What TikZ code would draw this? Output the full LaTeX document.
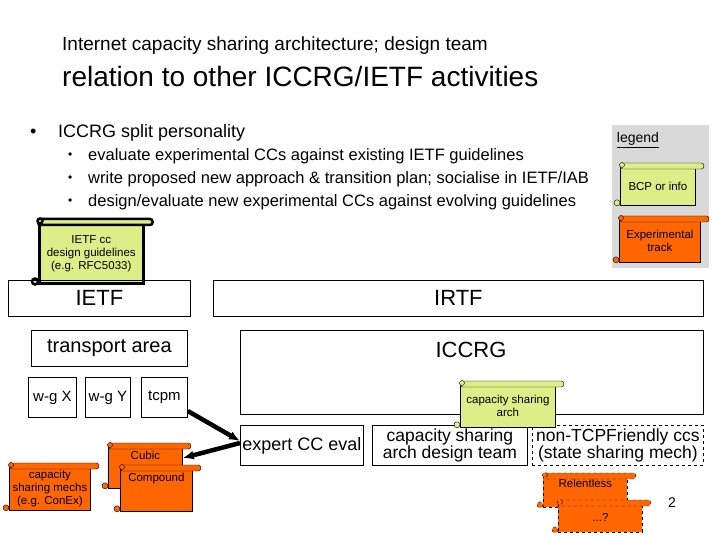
\documentclass[tikz,border=0pt]{standalone}
\usepackage{fontspec}
\setmainfont{Liberation Sans}
\usetikzlibrary{calc,arrows.meta}
\definecolor{ylw}{HTML}{DDEE88}
\definecolor{org}{HTML}{FF6600}
\definecolor{lgray}{HTML}{D9D9D9}
\tikzset{
 box/.style={draw,line width=0.8pt,inner sep=1pt},
 scrollbody/.style={draw,line width=0.8pt,inner sep=1pt,align=center,font=\fontsize{11.5}{13}\selectfont},
 arr/.style={-{Latex[length=11pt,width=9pt]},line width=4.5pt},
}
% #1 name, #2 left, #3 top, #4 right, #5 bottom, #6 style, #7 text
\newcommand\scrollnode[7]{%
 \node[scrollbody,#6,minimum width={#4-#2},minimum height={#5-#3-6},anchor=north west] (#1) at (#2,#3+6) {#7};
 \draw[#6] ($(#1.north west)+(0,-3)$) [rounded corners=2.5pt] rectangle ($(#1.north east)+(8,3)$);
 \draw[#6] ($(#1.north west)+(2,-1)$) circle (2.5);
 \draw[#6] ($(#1.south west)+(-3,-3)$) circle (3);
}
\begin{document}
\begin{tikzpicture}[x=1pt,y=-1pt]
\useasboundingbox (0,0) rectangle (720,540);
\node[anchor=west,font=\fontsize{19}{21}\selectfont,inner sep=0] (t1) at (62,46) {Internet capacity sharing architecture; design team};
\node[anchor=west,font=\fontsize{28}{30}\selectfont,inner sep=0] (t2) at (62,76) {relation to other ICCRG/IETF activities};
\node[anchor=west,font=\fontsize{18}{20}\selectfont,inner sep=0] (b0) at (30,133) {•};
\node[anchor=west,font=\fontsize{18}{20}\selectfont,inner sep=0] (b1) at (58,133) {ICCRG split personality};
\foreach \y/\t [count=\i] in {156/{evaluate experimental CCs against existing IETF guidelines},179/{write proposed new approach \& transition plan; socialise in IETF/IAB},202/{design/evaluate new experimental CCs against evolving guidelines}}{
 \node[anchor=west,font=\fontsize{12}{13}\selectfont,inner sep=0] (sb\i) at (68,\y) {•};
 \node[anchor=west,font=\fontsize{16.5}{18}\selectfont,inner sep=0] (st\i) at (88,\y) {\t};
}
% legend
\fill[lgray] (612,125) rectangle (709,268);
\node[font=\fontsize{14}{16}\selectfont] (leg) at (638,140) {\underline{legend}};
\scrollnode{lb}{620}{160}{695}{205}{fill=ylw}{BCP or info}
\scrollnode{le}{619}{213}{700}{262}{fill=org}{Experimental\\track}
% IETF cc
\scrollnode{gl}{38}{216}{142}{282}{fill=ylw,line width=2.5pt}{IETF cc\\design guidelines\\(e.g. RFC5033)}
\node[box,minimum width=182,minimum height=36,font=\fontsize{22}{24}\selectfont,anchor=north west] (ietf) at (8,280) {IETF};
\node[box,minimum width=490,minimum height=36,font=\fontsize{22}{24}\selectfont,anchor=north west] (irtf) at (213,280) {IRTF};
\node[box,minimum width=156,minimum height=36,font=\fontsize{20}{22}\selectfont,anchor=north west] (ta) at (31,330) {transport area};
\node[box,minimum width=463,minimum height=84,anchor=north west] (iccrg) at (240,330) {};
\node[font=\fontsize{22}{24}\selectfont] (iccrgl) at (471,350) {ICCRG};
\node[box,minimum width=48,minimum height=40,font=\fontsize{15}{17}\selectfont,anchor=north west] (wx) at (28,377) {w-g X};
\node[box,minimum width=45,minimum height=40,font=\fontsize{15}{17}\selectfont,anchor=north west] (wy) at (85,377) {w-g Y};
\node[box,minimum width=46,minimum height=40,font=\fontsize{15}{17}\selectfont,anchor=north west] (tcpm) at (141,377) {tcpm};
\node[box,minimum width=123,minimum height=40,font=\fontsize{18}{20}\selectfont,anchor=north west] (exp) at (240,425) {expert CC eval};
\node[box,minimum width=155,minimum height=40,font=\fontsize{17.5}{17.5}\selectfont,anchor=north west,align=center] (team) at (372,425) {capacity sharing\\arch design team};
\node[box,dashed,minimum width=171,minimum height=40,font=\fontsize{17.5}{17.5}\selectfont,anchor=north west,align=center] (ntf) at (532,425) {non-TCPFriendly ccs\\(state sharing mech)};
\scrollnode{csa}{460}{378}{555}{427}{fill=ylw}{capacity sharing\\arch}
\scrollnode{cubic}{108}{440}{182}{488}{fill=org}{Cubic\\[12pt]}
\scrollnode{comp}{120}{462}{192}{511}{fill=org}{Compound\\[12pt]}
\scrollnode{csm}{9}{460}{90}{510}{fill=org}{capacity\\sharing mechs\\(e.g. ConEx)}
\scrollnode{rel}{543}{470}{627}{507}{fill=org,dashed}{Relentless\\[4pt]}
\scrollnode{q}{558}{497}{642}{532}{fill=org,dashed}{...?}
\node[font=\fontsize{14}{16}\selectfont] (pg) at (672,503) {2};
\draw[arr] (tcpm.east |- 0,411) -- (exp.west |- 0,441);
\draw[arr] (exp.west |- 0,443) -- (cubic.east |- 0,458);
\end{tikzpicture}
\end{document}
